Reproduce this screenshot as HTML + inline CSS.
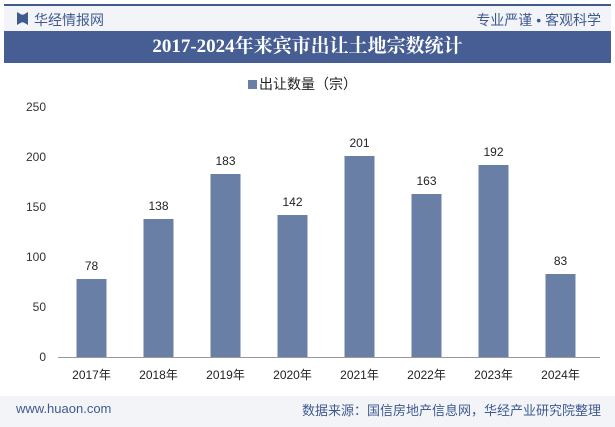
<!DOCTYPE html>
<html><head><meta charset="utf-8"><style>
body{margin:0;width:615px;height:427px;background:#fff;font-family:"Liberation Sans","Noto Sans CJK SC",sans-serif;overflow:hidden;position:relative}
.abs{position:absolute}
</style></head><body>
<div class="abs" style="left:4px;top:4px;width:607px;height:2px;background:#3f5a8f"></div>
<div class="abs" style="left:4px;top:6px;width:607px;height:25px;background:#f3f4f8"></div>
<div class="abs" style="left:17px;top:12px;width:11px;height:13px;background:#3f5a8f;clip-path:polygon(0 0,40% 20%,60% 20%,100% 0,100% 100%,60% 80%,40% 80%,0 100%)"></div>
<div class="abs" style="left:34px;top:10px;font-size:14px;color:#3f5a8f">华经情报网</div>
<div class="abs" style="right:14px;top:10px;font-size:14px;color:#3f5a8f">专业严谨 • 客观科学</div>
<div class="abs" style="left:4px;top:31px;width:607px;height:32px;background:#465e93;color:#fff;font-family:'Liberation Serif','Noto Serif CJK SC',serif;font-weight:bold;font-size:19px;line-height:32px;text-align:center">2017-2024年来宾市出让土地宗数统计</div>
<div class="abs" style="left:248px;top:74px;font-size:14px;color:#222"><span style="display:inline-block;width:9px;height:9px;background:#6a7fa5;margin-right:2px"></span>出让数量（宗）</div>
<svg class="abs" style="left:0;top:0" width="615" height="427" id="chart"></svg>
<div class="abs" style="left:0;top:396px;width:615px;height:31px;background:#f3f4f8"></div>
<div class="abs" style="left:16px;top:401px;font-size:13px;color:#3f5a8f">www.huaon.com</div>
<div class="abs" style="right:14px;top:400px;font-size:13px;color:#3f5a8f">数据来源：国信房地产信息网，华经产业研究院整理</div>
<script>
const categories=["2017年","2018年","2019年","2020年","2021年","2022年","2023年","2024年"];
const values=[78,138,183,142,201,163,192,83];
const ticks=[0,50,100,150,200,250];
const svg=document.getElementById('chart');const NS='http://www.w3.org/2000/svg';
const x0=58,x1=594,y0=357,yTop=107,ymax=250;
const y=v=>y0-(v/ymax)*(y0-yTop);
const bw=(x1-x0)/categories.length;
const xc=i=>x0+bw*(i+0.5);
function mk(t,a,txt){const e=document.createElementNS(NS,t);for(const k in a)e.setAttribute(k,a[k]);if(txt!=null)e.textContent=txt;svg.appendChild(e);return e;}
ticks.forEach(t=>{const e=mk('text',{x:46,y:y(t)+4,'text-anchor':'end','font-size':12,fill:'#333'},t);

});
const ax=mk('line',{x1:x0,x2:600,y1:y0+0.5,y2:y0+0.5,stroke:'#999'});


categories.forEach((c,i)=>{
const b=mk('rect',{x:xc(i)-15,y:y(values[i]),width:30,height:y0-y(values[i]),fill:'#6a7fa5'});


const l=mk('text',{x:xc(i),y:y(values[i])-9,'text-anchor':'middle','font-size':12,fill:'#222'},values[i]);


const t=mk('text',{x:xc(i),y:379,'text-anchor':'middle','font-size':12,fill:'#222'},c);


});
</script>
</body></html>
